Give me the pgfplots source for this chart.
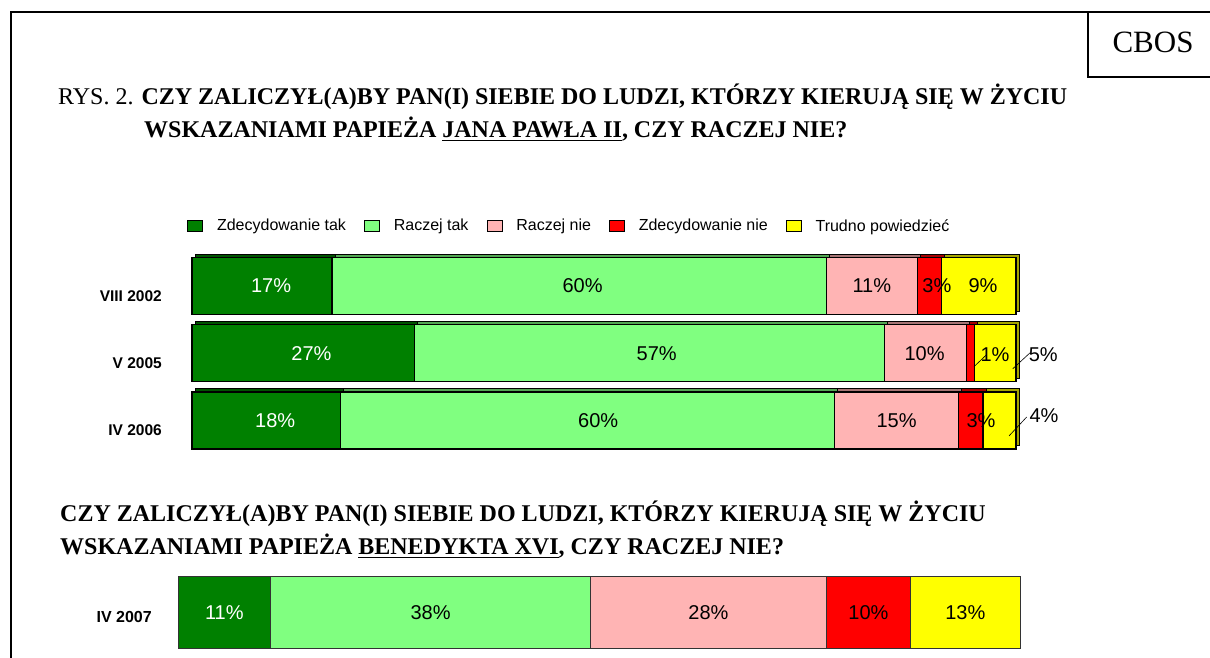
\documentclass[border=0pt]{standalone}
\usepackage{pgfplots}
\pgfplotsset{compat=1.18}
\usepackage{fontspec}
\setmainfont{Liberation Serif}
\newfontfamily\arial{Liberation Sans}
\definecolor{cDG}{RGB}{0,128,0}
\definecolor{cLG}{RGB}{128,255,128}
\definecolor{cPK}{RGB}{255,180,180}
\definecolor{cRD}{RGB}{255,0,0}
\definecolor{cYL}{RGB}{255,255,0}
\pgfplotstableread{
y  zt  rt  rn  zn  tp
0  18  60  15  3   4
1  27  57  10  1   5
2  17  60  11  3   9
}\toptab
\pgfplotsset{
  base/.style={scale only axis, xmin=0, xmax=100, axis line style={draw=none}, xtick=\empty, major tick length=0pt, clip=false},
  topbox/.style={base, width=824pt, height=201.75pt, ymin=-0.5, ymax=2.5, at={(192pt,203.9pt)}, anchor=south west},
  shadowbox/.style={base, width=824pt, height=201.75pt, ymin=-0.5, ymax=2.5, at={(195pt,206.9pt)}, anchor=south west, ytick=\empty},
  botbox/.style={base, width=842pt, height=90pt, ymin=-0.5, ymax=0.5, at={(178pt,0.25pt)}, anchor=south west},
  seg/.style={fill=#1, draw=black, line width=1.2pt,
    legend image code/.code={\draw[##1, line width=0.8pt] (0pt,-5.5pt) rectangle (15pt,5.5pt);}},
  shd/.style={fill=#1!65!black, draw=black, line width=1pt},
  segb/.style={fill=#1, draw=black!80, line width=1pt},
  lab/.style={only marks, mark=none, point meta=explicit symbolic,
    nodes near coords={\pgfplotspointmeta\%},
    every node near coord/.append style={anchor=center, inner sep=0pt, text=#1,
      font=\arial\fontsize{20}{20}\selectfont}},
}
\begin{document}
\begin{tikzpicture}
\useasboundingbox (0pt,0pt) rectangle (1210pt,658pt);
% frame
\draw[line width=2pt] (10.5pt,0pt) -- (10.5pt,646pt) -- (1210pt,646pt);
\draw[line width=2pt] (1088pt,646pt) -- (1088pt,581pt) -- (1210pt,581pt);
\node[anchor=base, inner sep=0pt] at (1153pt,605pt) {\fontsize{31}{31}\selectfont CBOS};
% titles
\node[anchor=base west, inner sep=0pt] at (58pt,553pt) {\fontsize{24}{24}\selectfont RYS. 2. \textbf{CZY ZALICZYŁ(A)BY PAN(I) SIEBIE DO LUDZI, KTÓRZY KIERUJĄ SIĘ W ŻYCIU}};
\node[anchor=base west, inner sep=0pt] at (144pt,520pt) {\fontsize{24}{24}\selectfont\bfseries WSKAZANIAMI PAPIEŻA \underline{JANA PAWŁA II}, CZY RACZEJ NIE?};
\node[anchor=base west, inner sep=0pt] at (60pt,136pt) {\fontsize{24}{24}\selectfont\bfseries CZY ZALICZYŁ(A)BY PAN(I) SIEBIE DO LUDZI, KTÓRZY KIERUJĄ SIĘ W ŻYCIU};
\node[anchor=base west, inner sep=0pt] at (60pt,103pt) {\fontsize{24}{24}\selectfont\bfseries WSKAZANIAMI PAPIEŻA \underline{BENEDYKTA XVI}, CZY RACZEJ NIE?};

% 3D depth of the top bars
\begin{axis}[shadowbox, xbar stacked, bar width=57pt]
\addplot[shd=cDG] table[x=zt, y=y] {\toptab};
\addplot[shd=cLG] table[x=rt, y=y] {\toptab};
\addplot[shd=cPK] table[x=rn, y=y] {\toptab};
\addplot[shd=cRD] table[x=zn, y=y] {\toptab};
\addplot[shd=cYL] table[x=tp, y=y] {\toptab};
\end{axis}
% top chart
\begin{axis}[topbox, xbar stacked, bar width=57pt,
  ytick={0,1,2}, yticklabels={IV 2006, V 2005, VIII 2002},
  yticklabel style={font=\arial\bfseries\fontsize{15.5}{16}\selectfont, inner sep=0pt, anchor=east, xshift=-30pt, yshift=-10pt},
  legend columns=5,
  legend style={draw=none, fill=none, at={(axis description cs:-0.006,1.131)}, anchor=west,
    font=\arial\fontsize{16}{16}\selectfont, inner sep=0pt,
    /tikz/every odd column/.append style={column sep=12pt},
    /tikz/every even column/.append style={column sep=16pt}},
  legend cell align=left]
\addplot[seg=cDG] table[x=zt, y=y] {\toptab};
\addplot[seg=cLG] table[x=rt, y=y] {\toptab};
\addplot[seg=cPK] table[x=rn, y=y] {\toptab};
\addplot[seg=cRD] table[x=zn, y=y] {\toptab};
\addplot[seg=cYL] table[x=tp, y=y] {\toptab};
\legend{Zdecydowanie tak, Raczej tak, Raczej nie, Zdecydowanie nie, Trudno powiedzieć}
\end{axis}
\begin{axis}[topbox, ytick=\empty]
\addplot[lab=white] coordinates {(9.6,2)[17] (14.5,1)[27] (10.1,0)[18]};
\addplot[lab=black] coordinates {(47.4,2)[60] (82.5,2)[11] (90.4,2)[3] (96,2)[9]
  (56.4,1)[57] (88.9,1)[10] (97.45,0.98)[1] (103.3,0.98)[5]
  (49.3,0)[60] (85.5,0)[15] (95.75,0)[3] (103.4,0.07)[4]};
\draw[line width=0.6pt] (axis cs:94.9,0.8) -- (axis cs:96.4,0.975);
\draw[line width=0.6pt] (axis cs:99.6,0.768) -- (axis cs:101.7,1.006);
\draw[line width=0.6pt] (axis cs:99.15,-0.23) -- (axis cs:101.3,0.052);
\end{axis}

% bottom chart
\begin{axis}[botbox, xbar stacked, bar width=71.5pt,
  ytick={0}, yticklabels={IV 2007},
  yticklabel style={font=\arial\bfseries\fontsize{16}{16}\selectfont, inner sep=0pt, anchor=east, xshift=-26pt, yshift=-4pt}]
\addplot[segb=cDG] coordinates {(11,0)};
\addplot[segb=cLG] coordinates {(38,0)};
\addplot[segb=cPK] coordinates {(28,0)};
\addplot[segb=cRD] coordinates {(10,0)};
\addplot[segb=cYL] coordinates {(13,0)};
\end{axis}
\begin{axis}[botbox, ytick=\empty]
\addplot[lab=white] coordinates {(5.5,0)[11]};
\addplot[lab=black] coordinates {(30,0)[38] (63,0)[28] (82,0)[10] (93.5,0)[13]};
\end{axis}
\end{tikzpicture}
\end{document}
